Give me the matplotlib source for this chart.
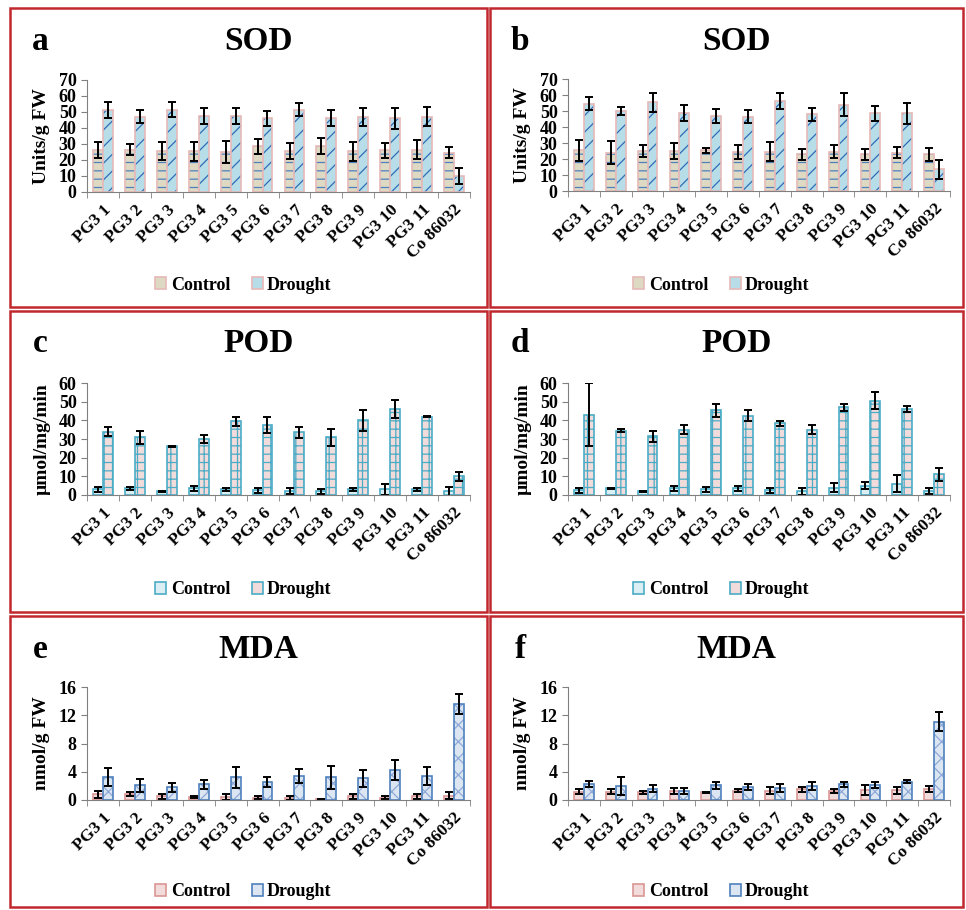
import matplotlib
matplotlib.use("Agg")
import matplotlib.pyplot as plt
from matplotlib.patches import Rectangle, Patch
import numpy as np

plt.rcParams["font.family"] = ["Liberation Serif", "DejaVu Serif"]
plt.rcParams["font.weight"] = "bold"
plt.rcParams["hatch.linewidth"] = 0.9

genotypes = ["PG3 1", "PG3 2", "PG3 3", "PG3 4", "PG3 5", "PG3 6", "PG3 7",
             "PG3 8", "PG3 9", "PG3 10", "PG3 11", "Co 86032"]

# SOD (Units/g FW)
sod_a_ctrl = [26, 26.5, 25.5, 25.5, 25, 28.5, 25.5, 28.5, 25.5, 26, 26.5, 24.5]
sod_a_ctrl_err = [5, 3.5, 5.5, 6, 7, 4.5, 5, 5, 6, 4.5, 6, 3.5]
sod_a_dro = [51, 47, 51.5, 47.5, 47.5, 46, 51.5, 46.5, 47, 46, 47, 10]
sod_a_dro_err = [5, 4, 4.5, 5, 5, 4.5, 4, 5, 5.5, 6.5, 6, 5]

sod_b_ctrl = [25.5, 24, 25, 25, 25.5, 24.5, 24.5, 23, 24.5, 23, 24, 23]
sod_b_ctrl_err = [6.5, 7, 3.5, 5, 1.5, 4.5, 6, 3.5, 4, 3.5, 3.5, 4]
sod_b_dro = [54.5, 50, 55.5, 49, 47, 46.5, 56, 48, 54, 48.5, 48.5, 13.5]
sod_b_dro_err = [4, 2.5, 6, 5, 4.5, 4, 5, 4, 7, 4.5, 6.5, 6]

# POD (umol/mg/min)
pod_c_ctrl = [3, 3.5, 2, 3.5, 3, 2.5, 2, 2, 3, 3, 3, 2]
pod_c_ctrl_err = [1.5, 0.7, 0.3, 1.5, 1, 1.5, 1.5, 1.3, 1, 3, 0.7, 2.5]
pod_c_dro = [34, 31, 26, 30, 39.5, 37.5, 33.5, 31, 40, 46, 42, 10]
pod_c_dro_err = [2.5, 3.5, 0.3, 2.3, 2.3, 4.5, 3, 4.5, 5.5, 5, 0.3, 2.5]

pod_d_ctrl = [2.5, 3.5, 2, 3.5, 3, 3.5, 2.5, 2, 4, 5, 6, 2]
pod_d_ctrl_err = [1.5, 0.3, 0.3, 1.3, 1.5, 1.3, 1.5, 2, 2.5, 2, 4.5, 1.5]
pod_d_dro = [43, 34.5, 31.5, 35, 45.5, 42.5, 38.5, 35, 47, 50.5, 46, 11]
pod_d_dro_err = [17, 1, 3, 2.3, 3.5, 3, 1.3, 2.3, 2, 4.5, 1.5, 3.5]

# MDA (nmol/g FW)
mda_e_ctrl = [0.8, 0.8, 0.5, 0.4, 0.4, 0.3, 0.3, 0.1, 0.5, 0.3, 0.5, 0.6]
mda_e_ctrl_err = [0.5, 0.3, 0.4, 0.1, 0.4, 0.2, 0.3, 0.05, 0.3, 0.2, 0.3, 0.5]
mda_e_dro = [3.3, 2.1, 1.8, 2.2, 3.2, 2.5, 3.4, 3.2, 3.1, 4.2, 3.4, 13.6]
mda_e_dro_err = [1.3, 0.9, 0.6, 0.7, 1.5, 0.7, 1.0, 1.6, 1.2, 1.4, 1.3, 1.4]

mda_f_ctrl = [1.2, 1.2, 1.1, 1.3, 1.1, 1.3, 1.3, 1.5, 1.3, 1.4, 1.4, 1.6]
mda_f_ctrl_err = [0.3, 0.3, 0.2, 0.4, 0.1, 0.2, 0.5, 0.3, 0.3, 0.7, 0.5, 0.4]
mda_f_dro = [2.3, 2.0, 1.6, 1.3, 2.1, 1.8, 1.7, 2.0, 2.2, 2.1, 2.6, 11.1]
mda_f_dro_err = [0.4, 1.3, 0.5, 0.4, 0.5, 0.4, 0.6, 0.6, 0.4, 0.4, 0.2, 1.4]

W, H = 966, 910

# fill, outline, hatch pattern, hatch colour
styles = {
    "SOD": dict(
        ctrl=("#ddd9c3", "#e6b9b8", "--", "#4f81bd"),
        dro=("#b7dee8", "#e6b9b8", "//", "#2e6db4"),
        ylim=70, step=10, ylabel="Units/g FW"),
    "POD": dict(
        ctrl=("#dbeef4", "#4bacc6", "", "#4bacc6"),
        dro=("#f2dcdb", "#4bacc6", "++", "#4bacc6"),
        ylim=60, step=10, ylabel="µmol/mg/min"),
    "MDA": dict(
        ctrl=("#f2dcdb", "#d99694", "", "#d99694"),
        dro=("#dce6f2", "#4f81bd", "xx", "#8ea9d8"),
        ylim=16, step=4, ylabel="nmol/g FW"),
}

panels = [
    ("a", "SOD", sod_a_ctrl, sod_a_ctrl_err, sod_a_dro, sod_a_dro_err),
    ("b", "SOD", sod_b_ctrl, sod_b_ctrl_err, sod_b_dro, sod_b_dro_err),
    ("c", "POD", pod_c_ctrl, pod_c_ctrl_err, pod_c_dro, pod_c_dro_err),
    ("d", "POD", pod_d_ctrl, pod_d_ctrl_err, pod_d_dro, pod_d_dro_err),
    ("e", "MDA", mda_e_ctrl, mda_e_ctrl_err, mda_e_dro, mda_e_dro_err),
    ("f", "MDA", mda_f_ctrl, mda_f_ctrl_err, mda_f_dro, mda_f_dro_err),
]

# pixel layout: box (x0, y0, x1, y1), axis (left, top, right, bottom)
boxes = [(10, 8, 487, 307), (490, 8, 963, 307),
         (10, 311, 487, 612), (490, 311, 963, 612),
         (10, 616, 487, 907), (490, 616, 963, 907)]
axes_px = [(87, 80, 470, 192), (568, 79, 950, 191),
           (87, 383, 470, 495), (568, 383, 950, 495),
           (87, 687, 470, 800), (568, 687, 950, 800)]

fig = plt.figure(figsize=(W / 100, H / 100), dpi=100)


def fx(px):
    return px / W


def fy(py):
    return 1 - py / H


def hatched_bars(ax, x, vals, w, style):
    face, edge, hatch, hcol = style
    ax.bar(x, vals, w, color=face, edgecolor=hcol, hatch=hatch, linewidth=0)
    ax.bar(x, vals, w, fill=False, edgecolor=edge, linewidth=1.2)


def legend_handle(style, label):
    face, edge, hatch, hcol = style
    return Patch(facecolor=face, edgecolor=edge, linewidth=1.2, label=label)


for i, (letter, name, ctrl, ctrl_err, dro, dro_err) in enumerate(panels):
    st = styles[name]
    bx0, by0, bx1, by1 = boxes[i]
    fig.patches.append(Rectangle((fx(bx0), fy(by1)), fx(bx1 - bx0), (by1 - by0) / H,
                                 transform=fig.transFigure, fill=False,
                                 edgecolor="#c0282d", linewidth=1.8))
    l, t, r, b = axes_px[i]
    ax = fig.add_axes([fx(l), fy(b), fx(r - l), (b - t) / H])
    x = np.arange(len(genotypes))
    w = 0.31
    hatched_bars(ax, x - w / 2, ctrl, w, st["ctrl"])
    hatched_bars(ax, x + w / 2, dro, w, st["dro"])
    ax.errorbar(x - w / 2, ctrl, yerr=ctrl_err, fmt="none", ecolor="black",
                elinewidth=1.4, capsize=3, capthick=1.4)
    ax.errorbar(x + w / 2, dro, yerr=dro_err, fmt="none", ecolor="black",
                elinewidth=1.4, capsize=3, capthick=1.4)
    ax.set_xlim(-0.5, len(genotypes) - 0.5)
    ax.set_ylim(0, st["ylim"])
    ax.set_yticks(np.arange(0, st["ylim"] + 1, st["step"]))
    ax.set_xticks(x)
    ax.set_xticklabels(genotypes, rotation=45, ha="right", rotation_mode="anchor",
                       fontsize=12.5, fontweight="bold")
    ax.set_xticks(np.arange(-0.5, len(genotypes), 1), minor=True)
    ax.tick_params(axis="x", which="major", length=0, pad=7)
    ax.tick_params(axis="x", which="minor", length=4, color="#808080")
    ax.tick_params(axis="y", length=4, color="#808080", labelsize=13)
    for lab in ax.get_yticklabels():
        lab.set_fontweight("bold")
    ax.set_ylabel(st["ylabel"], fontsize=14, fontweight="bold", labelpad=6)
    for s in ("top", "right"):
        ax.spines[s].set_visible(False)
    for s in ("left", "bottom"):
        ax.spines[s].set_color("#808080")
    fig.text(fx(bx0 + 30), fy(by0 + 33), letter, fontsize=24, fontweight="bold",
             va="center", ha="center")
    fig.text(fx((bx0 + bx1) / 2 + 10), fy(by0 + 33), name, fontsize=24,
             fontweight="bold", va="center", ha="center")
    leg_y = by1 - 22 if i < 4 else by1 - 15
    fig.legend(handles=[legend_handle(st["ctrl"], "Control"),
                        legend_handle(st["dro"], "Drought")],
               loc="center", bbox_to_anchor=(fx((bx0 + bx1) / 2 - 5), fy(leg_y)),
               ncol=2, frameon=False, prop=dict(size=13, weight="bold"),
               handlelength=0.6, handleheight=0.6, handletextpad=0.25,
               columnspacing=1.2)

fig.savefig("out.png", dpi=100)
